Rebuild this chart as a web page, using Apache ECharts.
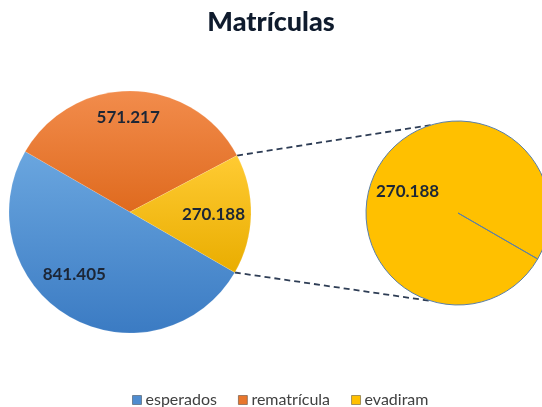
<!DOCTYPE html>
<html>
<head>
<meta charset="utf-8">
<script src="https://cdn.jsdelivr.net/npm/echarts@6/dist/echarts.min.js"></script>
<style>
  html, body { margin: 0; padding: 0; background: #fff; }
  #chart { width: 542px; height: 407px; }
</style>
</head>
<body>
<div id="chart"></div>
<script>
// data
const categories = ['esperados', 'rematrícula', 'evadiram']
const values = [841405, 571217, 270188]
// the second pie breaks down "evadiram" (a single part, plus an empty remainder)
const detailValues = [270188, 0]

const fmt = v => v.toLocaleString('pt-BR')

// layout
const mainCenter = [130, 212]
const mainR = 121
const detailCenter = [458, 213]
const detailR = 92
const startAngle = 330

const gradient = (top, bottom) => ({
  type: 'linear', x: 0, y: 0, x2: 0, y2: 1,
  colorStops: [{ offset: 0, color: top }, { offset: 1, color: bottom }]
})
const colors = [
  gradient('#6aa6df', '#3b7bc3'),
  gradient('#f28c4c', '#df6a1e'),
  gradient('#ffcb33', '#e9ad00')
]
const legendColors = ['#4f8ccf', '#e8762c', '#ffc000']
const labelOffsets = [[-24, 8], [-3, -31], [20, 1]]

const chart = echarts.init(document.getElementById('chart'))

// connector lines from the evadiram slice to the second pie
const total = values.reduce((a, b) => a + b, 0)
const toRad = a => a * Math.PI / 180
const pt = (c, r, a) => [c[0] + r * Math.cos(toRad(a)), c[1] - r * Math.sin(toRad(a))]
const yStart = startAngle - 360 * (values[0] + values[1]) / total
const yEnd = startAngle - 360
const a1 = pt(mainCenter, mainR, yStart)
const a2 = pt(mainCenter, mainR, yEnd)
const b1 = pt(detailCenter, detailR, 107)
const b2 = pt(detailCenter, detailR, -107)
const dashStyle = { stroke: '#2e3d55', lineWidth: 1.8, lineDash: [6, 4] }

const labelStyle = {
  show: true,
  position: 'inside',
  fontFamily: 'Lato',
  fontWeight: 'bold',
  fontSize: 17,
  color: '#1c2636',
  formatter: p => fmt(p.value)
}

chart.setOption({
  animation: false,
  title: {
    text: 'Matrículas',
    left: 'center',
    top: 4,
    textStyle: { fontFamily: 'Lato', fontWeight: 900, fontSize: 27, color: '#0f1b2d' }
  },
  color: legendColors,
  legend: {
    data: categories.map((name, i) => ({
      name,
      itemStyle: { color: legendColors[i], borderColor: 'rgba(0,0,0,0.35)', borderWidth: 1 }
    })),
    top: 387,
    left: 127,
    icon: 'rect',
    itemWidth: 9,
    itemHeight: 9,
    itemGap: 21,
    textStyle: { fontFamily: 'Lato', fontSize: 16, color: '#404040', padding: [0, 0, 0, -1] }
  },
  graphic: [
    { type: 'line', shape: { x1: a1[0], y1: a1[1], x2: b1[0], y2: b1[1] }, style: dashStyle, z: 1 },
    { type: 'line', shape: { x1: a2[0], y1: a2[1], x2: b2[0], y2: b2[1] }, style: dashStyle, z: 1 }
  ],
  series: [
    {
      type: 'pie',
      center: mainCenter,
      radius: mainR,
      startAngle: startAngle,
      clockwise: true,
      silent: true,
      label: labelStyle,
      labelLine: { show: false },
      data: categories.map((name, i) => ({
        name,
        value: values[i],
        itemStyle: { color: colors[i], borderColor: 'rgba(255,255,255,0.25)', borderWidth: 0.5 },
        label: { offset: labelOffsets[i] }
      }))
    },
    {
      type: 'pie',
      center: detailCenter,
      radius: detailR,
      startAngle: startAngle,
      clockwise: true,
      silent: true,
      minAngle: 0,
      labelLine: { show: false },
      data: detailValues.map((v, i) => ({
        name: i === 0 ? categories[2] : '',
        value: v,
        itemStyle: { color: '#ffc000', borderColor: '#5a7fa8', borderWidth: 1 },
        label: i === 0 ? { ...labelStyle, offset: [-8, 3] } : { show: false }
      }))
    }
  ]
})
</script>
</body>
</html>
